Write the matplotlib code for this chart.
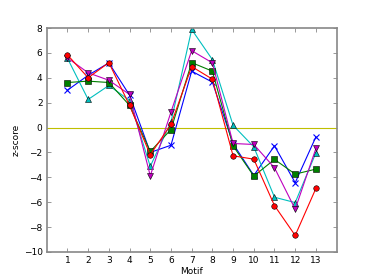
import matplotlib
matplotlib.use("Agg")
import matplotlib.pyplot as plt

motifs = list(range(1, 14))

# z-scores per series
blue_x = [3.0, 4.2, 5.2, 2.6, -2.0, -1.42, 4.53, 3.65, -1.3, -3.85, -1.47, -4.43, -0.75]
cyan_tri = [5.57, 2.26, 3.38, 2.18, -3.12, 0.45, 7.88, 5.46, 0.18, -1.55, -5.6, -6.03, -2.03]
green_sq = [3.62, 3.73, 3.62, 1.78, -1.92, -0.16, 5.22, 4.53, -1.47, -3.9, -2.56, -3.74, -3.34]
magenta_tri = [5.6, 4.4, 3.8, 2.66, -3.88, 1.25, 6.18, 5.2, -1.28, -1.36, -3.23, -6.56, -1.68]
red_circ = [5.84, 4.0, 5.22, 1.78, -2.19, 0.26, 4.9, 3.89, -2.27, -2.54, -6.27, -8.67, -4.89]

plt.rcParams["font.size"] = 6.5
plt.rcParams["axes.unicode_minus"] = True

fig = plt.figure(figsize=(3.74, 2.8), dpi=100)
ax = fig.add_axes([0.125, 0.1, 0.775, 0.8])

ax.axhline(0, color="#bfbf00", lw=0.8)

kw = dict(lw=0.8, ms=4, mec="k", mew=0.4)
ax.plot(motifs, blue_x, "x-", color="b", lw=0.8, ms=4, mew=0.8)
ax.plot(motifs, cyan_tri, "^-", color="c", **kw)
ax.plot(motifs, green_sq, "s-", color="g", **kw)
ax.plot(motifs, magenta_tri, "v-", color="m", **kw)
ax.plot(motifs, red_circ, "o-", color="r", **kw)

ax.set_xlim(0, 14)
ax.set_ylim(-10, 8)
ax.set_xticks(motifs)
ax.set_yticks(range(-10, 9, 2))
ax.set_xlabel("Motif", labelpad=1)
ax.set_ylabel("z-score", labelpad=2)

for s in ax.spines.values():
    s.set_color("#888888")
    s.set_linewidth(1.2)
ax.tick_params(direction="in", top=True, right=True, length=3, width=0.6,
               color="#888888", pad=3)

fig.savefig("out.png", dpi=100)
